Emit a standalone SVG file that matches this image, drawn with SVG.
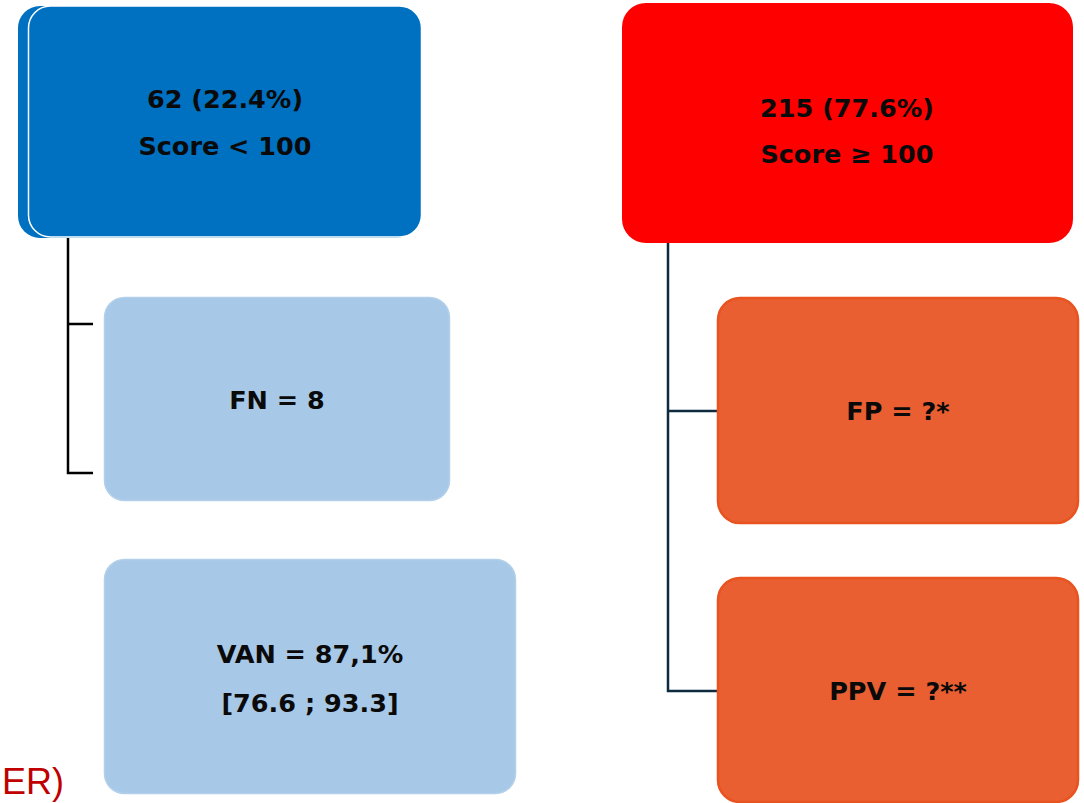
<svg xmlns="http://www.w3.org/2000/svg" width="1084" height="803" viewBox="0 0 1084 803">
  <style>
    .lbl { font-family: "DejaVu Sans", "Liberation Sans", sans-serif; font-weight: bold; font-size: 25.5px; fill: #0a0a0a; text-anchor: middle; }
    .neg { fill: #0070c0; }
    .negsub { fill: #a7c8e6; stroke: #b3d0ea; stroke-width: 1.5; }
    .pos { fill: #ff0000; }
    .possub { fill: #e95f32; stroke: #e8531f; stroke-width: 2.5; }
    .tree { fill: none; stroke-width: 2.5; stroke-linejoin: miter; }
  </style>

  <!-- connectors -->
  <g id="connectors">
    <path class="tree" stroke="#000000" d="M68,237 V473 H93 M68,324 H93"/>
    <path class="tree" stroke="#0e2a3f" stroke-width="3.5" d="M668,243 V691 H717 M668,411 H717"/>
  </g>

  <!-- negative branch: score below 100 -->
  <g id="node-neg">
    <rect class="neg" x="18" y="6" width="400" height="232" rx="22"/>
    <rect class="neg" x="28.5" y="6" width="393" height="231" rx="22" stroke="#ffffff" stroke-width="1.5"/>
    <text class="lbl" x="225" y="108">62 (22.4%)</text>
    <text class="lbl" x="225" y="155">Score &lt; 100</text>
  </g>

  <g id="node-fn">
    <rect class="negsub" x="104.5" y="297.5" width="345" height="203" rx="20"/>
    <text class="lbl" x="277" y="409">FN = 8</text>
  </g>

  <g id="node-van">
    <rect class="negsub" x="104.5" y="559.5" width="411" height="234" rx="20"/>
    <text class="lbl" x="310" y="663">VAN = 87,1%</text>
    <text class="lbl" x="310" y="712">[76.6 ; 93.3]</text>
  </g>

  <!-- positive branch: score of 100 or more -->
  <g id="node-pos">
    <rect class="pos" x="622" y="3" width="451" height="240" rx="24"/>
    <text class="lbl" x="847" y="117">215 (77.6%)</text>
    <text class="lbl" x="847" y="163">Score ≥ 100</text>
  </g>

  <g id="node-fp">
    <rect class="possub" x="718" y="298" width="360" height="225" rx="22"/>
    <text class="lbl" x="898" y="420">FP = ?*</text>
  </g>

  <g id="node-ppv">
    <rect class="possub" x="718" y="578" width="360" height="224" rx="22"/>
    <text class="lbl" x="898" y="700">PPV = ?**</text>
  </g>

  <text x="2" y="794" font-family="'Liberation Sans', 'DejaVu Sans', sans-serif" font-size="36" fill="#c00000">ER)</text>
</svg>
